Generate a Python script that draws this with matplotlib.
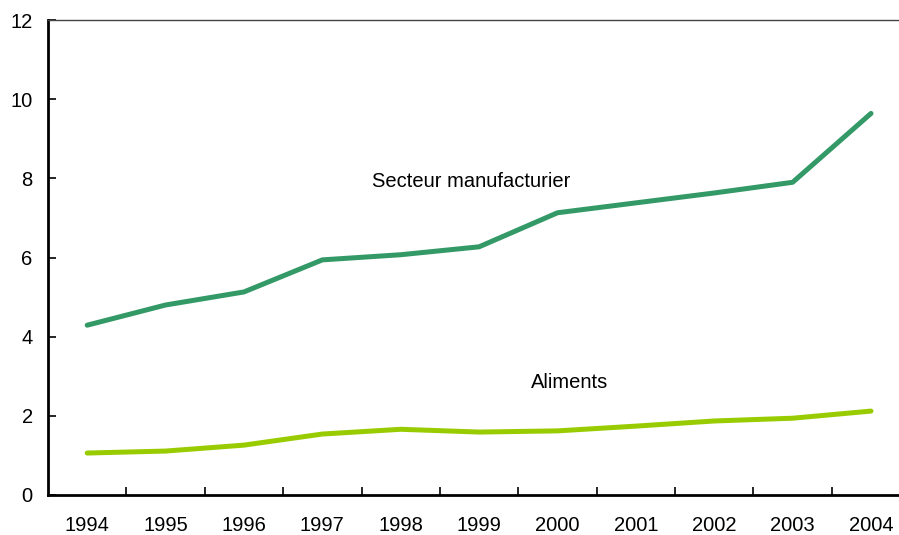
import matplotlib.pyplot as plt

years = ['1994', '1995', '1996', '1997', '1998', '1999', '2000', '2001', '2002', '2003', '2004']
manufacturier = [4.29, 4.80, 5.13, 5.94, 6.07, 6.27, 7.13, 7.38, 7.63, 7.90, 9.64]
aliments = [1.06, 1.11, 1.26, 1.54, 1.66, 1.59, 1.62, 1.74, 1.87, 1.94, 2.12]

plt.rcParams['font.family'] = ['Liberation Sans', 'DejaVu Sans']

fig = plt.figure(figsize=(8.99, 5.35), dpi=100)
ax = fig.add_axes([48 / 899, 40 / 535, 851 / 899, 475 / 535])

x = list(range(len(years)))
ax.plot(x, manufacturier, color='#339966', linewidth=3.6, solid_capstyle='round')
ax.plot(x, aliments, color='#99cc00', linewidth=3.6, solid_capstyle='round')

ax.text(4.9, 7.93, 'Secteur manufacturier', fontsize=14.5, ha='center', va='center')
ax.text(6.16, 2.83, 'Aliments', fontsize=14.5, ha='center', va='center')

ax.set_xlim(-0.5, 10.357)
ax.set_ylim(0, 12)
ax.set_yticks(range(0, 13, 2))
ax.set_xticks(x)
ax.set_xticklabels(years)
ax.set_xticks([i + 0.5 for i in x[:-1]], minor=True)

ax.tick_params(axis='x', which='major', length=0, pad=15, labelsize=14.5)
ax.tick_params(axis='x', which='minor', direction='in', length=6, width=1.2)
ax.tick_params(axis='y', direction='in', length=6, width=1.2, pad=11, labelsize=14.5)

for side in ['left', 'bottom']:
    ax.spines[side].set_linewidth(2)
ax.spines['right'].set_visible(False)
ax.spines['top'].set_linewidth(1.0)
ax.spines['top'].set_color('#444444')

plt.savefig('out.png', dpi=100)
